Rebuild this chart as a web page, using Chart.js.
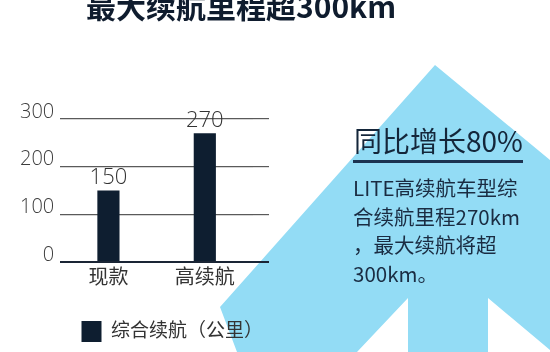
<!DOCTYPE html>
<html>
<head>
<meta charset="utf-8">
<script src="https://cdn.jsdelivr.net/npm/chart.js@4/dist/chart.umd.min.js"></script>
<style>
  html, body { margin: 0; padding: 0; background: #fff; }
  #wrap { position: relative; width: 550px; height: 352px; overflow: hidden; font-family: "Noto Sans CJK SC", sans-serif; }
  #bg { position: absolute; left: 0; top: 0; }
  #box { position: absolute; left: 0; top: 0; width: 550px; height: 352px; }
  .txt { position: absolute; white-space: nowrap; }
  #title { left: 86px; top: -10px; font-size: 30px; line-height: 30px; font-weight: bold; color: #0f1c2e; }
  #head { left: 354px; top: 126px; font-size: 28px; line-height: 28px; color: #14263a; }
  #rule { position: absolute; left: 353px; top: 160px; width: 170px; height: 3px; background: #1c3350; }
  #body { left: 353px; top: 173px; font-size: 20.5px; line-height: 28.5px; color: #1a2c42; }
</style>
</head>
<body>
<div id="wrap">
  <svg id="bg" width="550" height="352">
    <!-- arrow behind the chart -->
    <polygon points="435,65 550,160 550,350 488,298 488,352 408,352 408,298 357,352 237,352 220,307" fill="#93dcf5"/>
  </svg>
  <div id="box"><canvas id="chart"></canvas></div>
  <div class="txt" id="title">最大续航里程超300km</div>
  <div class="txt" id="head">同比增长80%</div>
  <div id="rule"></div>
  <div class="txt" id="body">LITE高续航车型综<br>合续航里程270km<br>，最大续航将超<br>300km。</div>
</div>
<script>
const categories = ['现款', '高续航'];
const rangeValues = [150, 270];
const seriesName = '综合续航（公里）';
const yTicks = [0, 100, 200, 300];

const barColor = '#0e1e30';
const gridColor = '#5a5a5a';
const axisColor = '#1a2535';
const textColor = '#333';

Chart.defaults.font.family = '"Open Sans", "Noto Sans CJK SC", sans-serif';

// valores em cima das barras
const valueLabels = {
    id: 'valueLabels',
    afterDatasetsDraw(chart) {
        const ctx = chart.ctx;
        const meta = chart.getDatasetMeta(0);
        ctx.save();
        ctx.font = '300 22px "Open Sans", sans-serif';
        ctx.fillStyle = textColor;
        ctx.textAlign = 'center';
        ctx.textBaseline = 'middle';
        meta.data.forEach((bar, i) => {
            ctx.fillText(String(chart.data.datasets[0].data[i]), bar.x, bar.y - 13);
        });
        ctx.restore();
    }
};

const gridLine = (c) => c.tick && c.tick.value === 0 ? axisColor : gridColor;
const gridWidth = (c) => c.tick && c.tick.value === 0 ? 2 : 1.2;

new Chart(document.getElementById('chart'), {
    type: 'bar',
    data: {
        labels: categories,
        datasets: [{
            label: seriesName,
            data: rangeValues,
            backgroundColor: barColor,
            borderWidth: 0,
            barPercentage: 0.23,
            categoryPercentage: 1
        }]
    },
    options: {
        responsive: true,
        maintainAspectRatio: false,
        animation: false,
        layout: { padding: { left: 14, right: 281, top: 119, bottom: 0 } },
        plugins: {
            tooltip: { enabled: false },
            legend: {
                position: 'bottom',
                align: 'end',
                labels: {
                    color: textColor,
                    font: { size: 19 },
                    boxWidth: 20,
                    boxHeight: 21,
                    padding: 6
                }
            }
        },
        scales: {
            x: {
                grid: { display: false, drawTicks: false },
                border: { display: false },
                ticks: { color: textColor, font: { size: 20 }, padding: 4 },
                afterFit(scale) { scale.height = 53; }
            },
            y: {
                min: 0,
                max: 300,
                afterBuildTicks(scale) { scale.ticks = yTicks.map(v => ({ value: v })); },
                ticks: {
                    color: '#3d3d3d',
                    font: { size: 20, weight: 300, lineHeight: 0.7 },
                    padding: 6,
                    callback: (v) => [String(v), '']
                },
                grid: { color: gridLine, lineWidth: gridWidth, drawTicks: false },
                border: { display: false }
            },
            // eixo fantasma só pra estender as linhas até a direita
            y2: {
                position: 'right',
                min: 0,
                max: 300,
                afterBuildTicks(scale) { scale.ticks = yTicks.map(v => ({ value: v })); },
                ticks: { display: false },
                grid: { drawOnChartArea: false, drawTicks: true, tickLength: 16, color: gridLine, lineWidth: gridWidth },
                border: { display: false }
            }
        }
    },
    plugins: [valueLabels]
});
</script>
</body>
</html>
